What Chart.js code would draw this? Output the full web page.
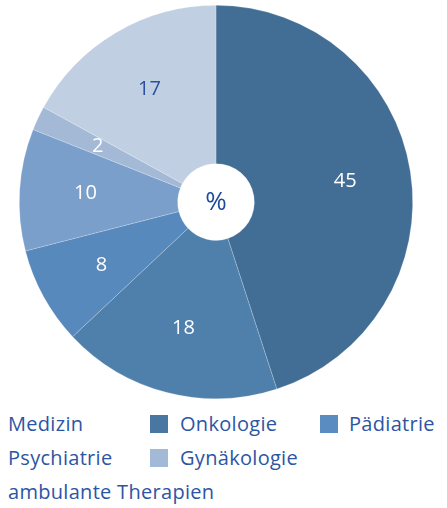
<!DOCTYPE html>
<html>
<head>
<meta charset="utf-8">
<script src="https://cdn.jsdelivr.net/npm/chart.js@4"></script>
<style>
  html, body { margin: 0; padding: 0; background: #fff; }
  #wrap { position: relative; width: 447px; height: 508px; overflow: hidden; }
  #chartBox { position: absolute; left: 0; top: 0; width: 447px; height: 404px; }
  .lg { position: absolute; font-family: "Open Sans", sans-serif; font-size: 20px; letter-spacing: 0.3px; color: #2c55a4; line-height: 26px; white-space: nowrap; }
  .sw { position: absolute; width: 18px; height: 18px; }
</style>
</head>
<body>
<div id="wrap">
  <div id="chartBox"><canvas id="c"></canvas></div>
  <div id="legend"></div>
</div>
<script>
// ---- data ----
const categories = ["Medizin", "Onkologie", "Pädiatrie", "Psychiatrie", "Gynäkologie", "ambulante Therapien"];
const values = [45, 18, 8, 10, 2, 17];
const centerLabel = "%";

// ---- styles ----
const sliceColors = ["#426e95", "#4f80ab", "#5789bc", "#7a9fcb", "#a3b9d5", "#c0d0e2"];
const labelColors = ["#ffffff", "#ffffff", "#ffffff", "#ffffff", "#ffffff", "#2b50a0"];
const legendBoxColors = [null, "#4a76a2", "#5a8cc2", null, "#a3bad6", null];

const sliceLabels = {
  id: "sliceLabels",
  afterDatasetsDraw(chart) {
    const ctx = chart.ctx;
    const meta = chart.getDatasetMeta(0);
    ctx.save();
    ctx.font = '20px "Open Sans", sans-serif';
    ctx.textAlign = "center";
    ctx.textBaseline = "middle";
    meta.data.forEach((arc, i) => {
      const p = arc.getProps(["x", "y", "startAngle", "endAngle", "outerRadius"], true);
      const mid = (p.startAngle + p.endAngle) / 2;
      const r = p.outerRadius * 0.665;
      ctx.fillStyle = labelColors[i];
      ctx.fillText(String(chart.data.datasets[0].data[i]), p.x + Math.cos(mid) * r, p.y + Math.sin(mid) * r);
    });
    const a = meta.data[0].getProps(["x", "y"], true);
    ctx.font = '26px "Open Sans", sans-serif';
    ctx.fillStyle = "#1e4a9c";
    ctx.fillText(centerLabel, a.x, a.y + 1);
    ctx.restore();
  }
};

new Chart(document.getElementById("c"), {
  type: "doughnut",
  data: {
    labels: categories,
    datasets: [{
      data: values,
      backgroundColor: sliceColors,
      borderColor: "rgba(255,255,255,0.35)",
      borderWidth: 0.6
    }]
  },
  options: {
    responsive: true,
    maintainAspectRatio: false,
    animation: false,
    cutout: "19.5%",
    layout: { padding: { left: 19, right: 34, top: 5, bottom: 5 } },
    plugins: { legend: { display: false }, tooltip: { enabled: false } }
  },
  plugins: [sliceLabels]
});

// HTML legend laid out in three columns
const legend = document.getElementById("legend");
const colX = [8, 180, 349];
const boxX = [null, 150, 320];
const rows = [[0, 1, 2], [3, 4], [5]];
const rowY = [424, 458, 492];
rows.forEach((row, ri) => {
  row.forEach((idx, ci) => {
    const t = document.createElement("div");
    t.className = "lg";
    t.textContent = categories[idx];
    t.style.left = colX[ci] + "px";
    t.style.top = (rowY[ri] - 13) + "px";
    legend.appendChild(t);
    if (legendBoxColors[idx]) {
      const b = document.createElement("div");
      b.className = "sw";
      b.style.background = legendBoxColors[idx];
      b.style.left = boxX[ci] + "px";
      b.style.top = (rowY[ri] - 9) + "px";
      legend.appendChild(b);
    }
  });
});
</script>
</body>
</html>
